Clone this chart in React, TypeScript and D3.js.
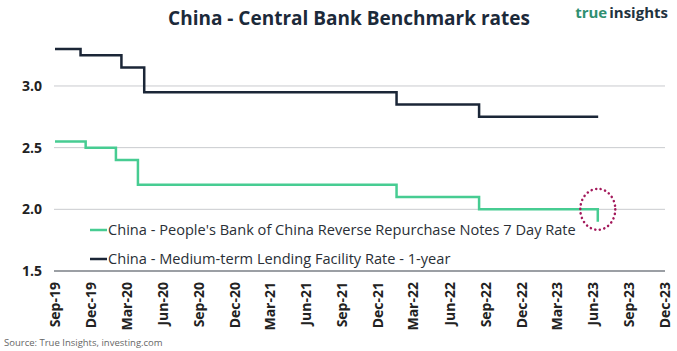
import * as d3 from "d3";

// policy rate changes (date the new rate took effect)
const mlfDates = ["2019-09-01", "2019-11-05", "2020-02-17", "2020-04-15", "2022-01-17", "2022-08-15", "2023-06-14"];
const mlfValues = [3.3, 3.25, 3.15, 2.95, 2.85, 2.75, 2.75];

const repoDates = ["2019-09-01", "2019-11-18", "2020-02-03", "2020-03-30", "2022-01-17", "2022-08-15", "2023-06-13", "2023-06-13"];
const repoValues = [2.55, 2.5, 2.4, 2.2, 2.1, 2.0, 2.0, 1.9];

const yTicks = [1.5, 2.0, 2.5, 3.0];
const xTickLabels = [
  "Sep-19", "Dec-19", "Mar-20", "Jun-20", "Sep-20", "Dec-20", "Mar-21", "Jun-21", "Sep-21",
  "Dec-21", "Mar-22", "Jun-22", "Sep-22", "Dec-22", "Mar-23", "Jun-23", "Sep-23", "Dec-23",
];
const legendLabels = [
  "China - People's Bank of China Reverse Repurchase Notes 7 Day Rate",
  "China - Medium-term Lending Facility Rate - 1-year",
];

const W = 677;
const H = 351;
const navy = "#1b2637";
const green = "#47cc92";
const font = "'Open Sans', sans-serif";

const parse = d3.timeParse("%Y-%m-%d");
const parseTick = d3.timeParse("%b-%y");

export default function App() {
  const x = d3
    .scaleTime()
    .domain([parse("2019-09-01")!, parse("2023-12-01")!])
    .range([55, 665]);
  const y = d3.scaleLinear().domain([1.5, 3.5]).range([271, 24.3]);

  const line = d3
    .line<[Date, number]>()
    .x((d) => x(d[0]))
    .y((d) => y(d[1]))
    .curve(d3.curveStepAfter);

  const mlf = mlfDates.map((d, i) => [parse(d)!, mlfValues[i]] as [Date, number]);
  const repo = repoDates.map((d, i) => [parse(d)!, repoValues[i]] as [Date, number]);

  const last = repo[repo.length - 1];
  const cx = x(last[0]);
  const cy = y(2.0);

  return (
    <svg width={W} height={H} style={{ display: "block", position: "absolute", left: 0, top: 0, background: "#fff" }}>
      <text x={349} y={25} textAnchor="middle" fontFamily={font} fontWeight={700} fontSize={19} fill="#1c2a3a">
        China - Central Bank Benchmark rates
      </text>
      <text x={668} y={18} textAnchor="end" fontFamily={font} fontWeight={700} fontSize={15}>
        <tspan fill="#2f8f70">true</tspan>
        <tspan fill="#1f3340" dx={2}>insights</tspan>
      </text>

      {yTicks.map((t) => (
        <g key={t}>
          <line x1={54} x2={665} y1={y(t)} y2={y(t)} stroke={t === 1.5 ? "#7a7f86" : "#c9cbce"} strokeWidth={t === 1.5 ? 1.5 : 1} />
          <text x={42} y={y(t) + 5} textAnchor="end" fontFamily={font} fontWeight={700} fontSize={14} fill="#222">
            {t.toFixed(1)}
          </text>
        </g>
      ))}

      {xTickLabels.map((t) => (
        <text
          key={t}
          transform={`translate(${x(parseTick(t)!) + 5},282) rotate(-90)`}
          textAnchor="end"
          fontFamily={font}
          fontWeight={700}
          fontSize={14}
          fill="#222"
        >
          {t}
        </text>
      ))}

      <path d={line(mlf)!} fill="none" stroke={navy} strokeWidth={2.5} />
      <path d={line(repo)!} fill="none" stroke={green} strokeWidth={2.5} />

      <ellipse cx={cx} cy={cy} rx={17.5} ry={20.5} fill="none" stroke="#a3195b" strokeWidth={2.5} strokeDasharray="0.1 4.5" strokeLinecap="round" />

      {legendLabels.map((l, i) => (
        <g key={l}>
          <line x1={90} x2={107} y1={230 + i * 29} y2={230 + i * 29} stroke={i === 0 ? green : navy} strokeWidth={2.5} />
          <text x={108} y={235 + i * 29} fontFamily={font} fontSize={14.6} fill="#2a2f36">
            {l}
          </text>
        </g>
      ))}

      <text x={4} y={346} fontFamily={font} fontSize={9.5} fill="#666">
        Source: True Insights, investing.com
      </text>
    </svg>
  );
}
